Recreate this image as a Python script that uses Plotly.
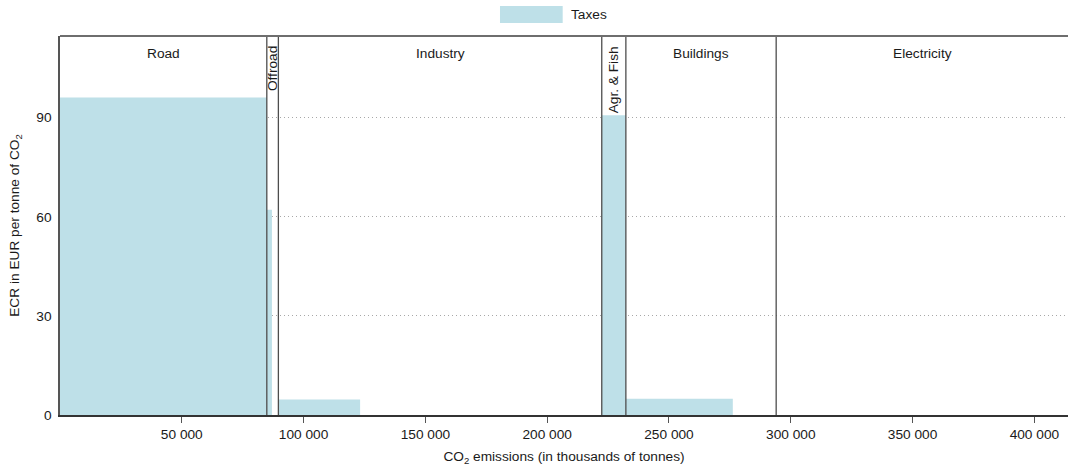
import plotly.graph_objects as go

# Sectors in order along the cumulative emissions axis (thousands of tonnes CO2)
sectors = ["Road", "Offroad", "Industry", "Agr. & Fish", "Buildings", "Electricity"]
sector_emissions = [84900, 4750, 132750, 9900, 61700, 119800]

# Emissions covered by a tax in each sector, and the effective carbon rate (EUR/tCO2)
taxed_emissions = [84900, 2100, 33550, 9900, 43900, 0]
tax_rate = [96.1, 62.1, 4.7, 90.7, 4.9, 0]

x_ticks = [50000, 100000, 150000, 200000, 250000, 300000, 350000, 400000]
y_ticks = [0, 30, 60, 90]
y_max = 114.7

BAR_COLOR = "#bee0e8"
FONT = "Liberation Sans"
FS = 13.7

# Sector boundaries
starts = []
acc = 0
for e in sector_emissions:
    starts.append(acc)
    acc += e
x_max = acc

# Tax blocks: each starts at its sector's left boundary
bx, bw, by = [], [], []
for s, w, r in zip(starts, taxed_emissions, tax_rate):
    if w > 0:
        bx.append(s + w / 2)
        bw.append(w)
        by.append(r)

fig = go.Figure()
fig.add_trace(go.Bar(
    x=bx, y=by, width=bw,
    marker=dict(color=BAR_COLOR, line=dict(width=0)),
    name="Taxes", showlegend=False, hoverinfo="x+y",
))

shapes = []
annotations = []

# Vertical dividers between sectors
for s in starts[1:]:
    shapes.append(dict(type="line", xref="x", yref="y domain", x0=s, x1=s, y0=0, y1=1,
                       line=dict(color="#4d4d4d", width=1.3), layer="above"))
# Top frame line
shapes.append(dict(type="line", xref="x domain", yref="y domain", x0=0, x1=1, y0=1, y1=1,
                   line=dict(color="#6e6e6e", width=2), layer="above"))

# Sector labels
for name, s, e in zip(sectors, starts, sector_emissions):
    narrow = e < 15000
    annotations.append(dict(
        x=s + e / 2, xref="x", y=1, yref="y domain", yshift=-8,
        text=name, showarrow=False, textangle=-90 if narrow else 0,
        xanchor="center", yanchor="top",
        font=dict(family=FONT, size=FS, color="#1a1a1a"),
    ))

# Legend
shapes.append(dict(type="rect", xref="paper", yref="paper",
                   x0=0.4365, x1=0.4987, y0=1.0343, y1=1.0792,
                   fillcolor=BAR_COLOR, line=dict(width=0)))
annotations.append(dict(x=0.5045, y=1.0567, xref="paper", yref="paper", text="Taxes",
                        showarrow=False, xanchor="left", yanchor="middle",
                        font=dict(family=FONT, size=FS, color="#1a1a1a")))

fig.update_layout(
    width=1068, height=473,
    margin=dict(l=60, r=0, t=36, b=58),
    paper_bgcolor="white", plot_bgcolor="white",
    font=dict(family=FONT, size=FS, color="#1a1a1a"),
    separators=". ",
    shapes=shapes, annotations=annotations,
    showlegend=False,
    xaxis=dict(
        range=[0, x_max], tickvals=x_ticks, tickformat=",d",
        showgrid=False, zeroline=False,
        showline=True, linecolor="#333333", linewidth=2,
        ticks="outside", ticklen=6, tickcolor="#555555", tickwidth=1,
        title=dict(text="CO<sub>2</sub> emissions (in thousands of tonnes)", standoff=10,
                   font=dict(family=FONT, size=FS)),
    ),
    yaxis=dict(
        range=[0, y_max], tickvals=y_ticks,
        showgrid=True, gridcolor="#a8a8a8", griddash="1px,3px", gridwidth=1,
        zeroline=False,
        showline=True, linecolor="#555555", linewidth=1.5,
        ticks="", ticklabelstandoff=4,
        title=dict(text="ECR in EUR per tonne of CO<sub>2</sub>", standoff=13,
                   font=dict(family=FONT, size=FS)),
    ),
)

fig.write_html("out.html")
